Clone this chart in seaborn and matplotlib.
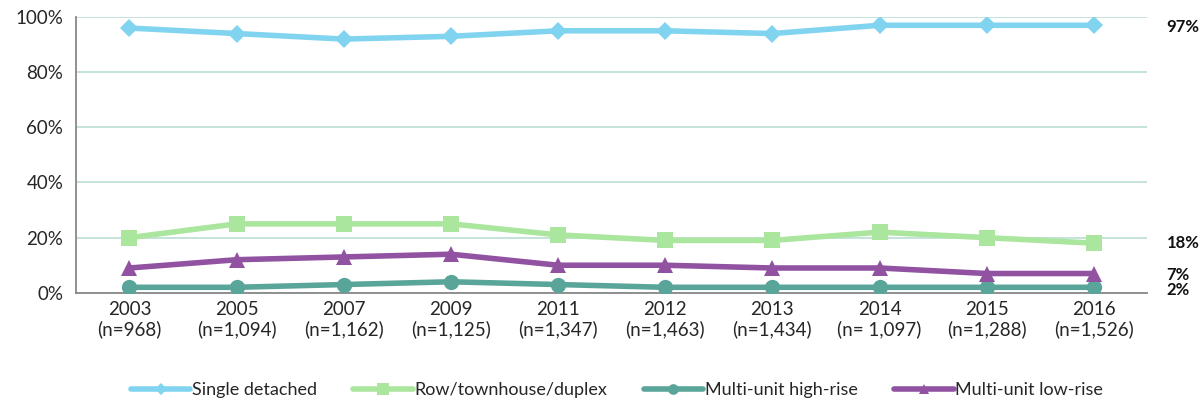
import matplotlib
matplotlib.use("Agg")
import matplotlib.pyplot as plt
import seaborn as sns
import pandas as pd
import numpy as np

years = ["2003", "2005", "2007", "2009", "2011", "2012", "2013", "2014", "2015", "2016"]
sample_sizes = ["n=968", "n=1,094", "n=1,162", "n=1,125", "n=1,347", "n=1,463", "n=1,434", "n= 1,097", "n=1,288", "n=1,526"]
single_detached = [96, 94, 92, 93, 95, 95, 94, 97, 97, 97]
row_townhouse = [20, 25, 25, 25, 21, 19, 19, 22, 20, 18]
high_rise = [2, 2, 3, 4, 3, 2, 2, 2, 2, 2]
low_rise = [9, 12, 13, 14, 10, 10, 9, 9, 7, 7]
series_names = ["Single detached", "Row/townhouse/duplex", "Multi-unit high-rise", "Multi-unit low-rise"]
end_labels = ["97%", "18%", "2%", "7%"]

sns.set_theme(style="white")
plt.rcParams['font.family'] = ['Lato', 'DejaVu Sans']

colors = ["#80d4f0", "#abe69e", "#5aa599", "#9052a1"]
markers = ["D", "s", "o", "^"]
msizes = [9, 12, 11, 11]

records = []
for name, vals in zip(series_names, [single_detached, row_townhouse, high_rise, low_rise]):
    for i, v in enumerate(vals):
        records.append({"x": i, "value": v, "series": name})
df = pd.DataFrame(records)

fig, ax = plt.subplots(figsize=(12.04, 4.05), dpi=100)
fig.subplots_adjust(left=0.063, right=0.953, top=0.958, bottom=0.277)

for name, c, m, ms in zip(series_names, colors, markers, msizes):
    sub = df[df["series"] == name]
    sns.lineplot(data=sub, x="x", y="value", ax=ax, color=c, marker=m, markersize=ms,
                 markeredgewidth=0, linewidth=4, label=name, zorder=3)

ax.set_xlim(-0.5, len(years) - 0.5)
ax.set_ylim(0, 100)
ax.set_yticks([0, 20, 40, 60, 80, 100])
ax.set_yticklabels([f"{t}%" for t in [0, 20, 40, 60, 80, 100]], fontsize=13.5)
ax.set_xticks(range(len(years)))
ax.set_xticklabels([f"{y}\n({n})" for y, n in zip(years, sample_sizes)], fontsize=13.5, linespacing=1.15)
ax.set_xticks(np.arange(-0.5, len(years)), minor=True)
ax.tick_params(axis="x", which="major", length=0, pad=6)
ax.tick_params(axis="x", which="minor", length=6, color="#888888", width=1.2, direction="out")
ax.tick_params(axis="y", which="major", length=5, color="#888888", width=1.2, direction="out", pad=4)
ax.set_xlabel("")
ax.set_ylabel("")
ax.yaxis.grid(True, color="#bfe0d8", linewidth=1.3)
ax.set_axisbelow(True)
for s in ["top", "right"]:
    ax.spines[s].set_visible(False)
for s in ["left", "bottom"]:
    ax.spines[s].set_color("#888888")
    ax.spines[s].set_linewidth(1.3)

# end labels
last = len(years) - 1
end_vals = [single_detached[-1], row_townhouse[-1], high_rise[-1], low_rise[-1]]
offsets = [-0.5, 0, -1.0, -0.5]
for lbl, v, off in zip(end_labels, end_vals, offsets):
    ax.text(last + 0.68, v + off, lbl, fontsize=12, fontweight="bold", va="center", ha="left",
            color="#111111", clip_on=False)

leg = ax.legend(loc="upper center", bbox_to_anchor=(0.505, -0.265), ncol=4, frameon=False,
                fontsize=13, handlelength=3.3, columnspacing=2.0, handletextpad=0.1,
                markerscale=0.7)

fig.savefig("out.png", dpi=100)
